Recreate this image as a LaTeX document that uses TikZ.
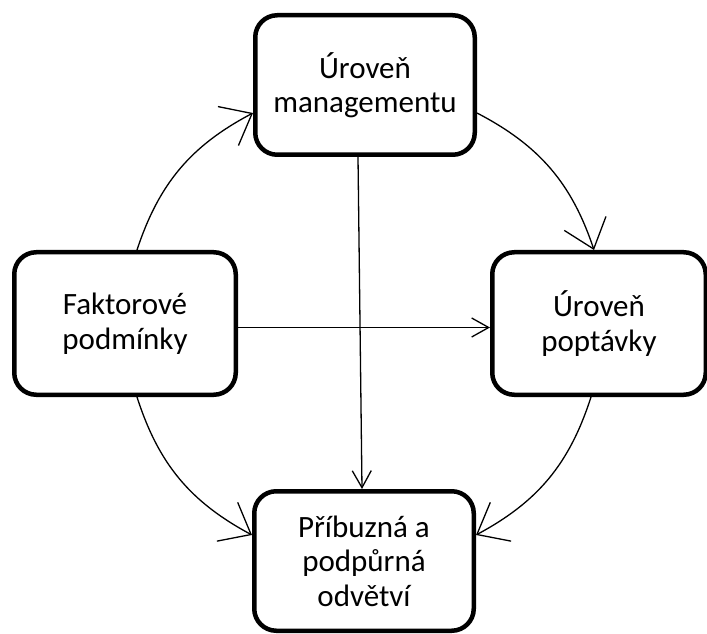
\documentclass[tikz,border=0pt]{standalone}
\usepackage{fontspec}
\setmainfont{Carlito}
\usetikzlibrary{arrows.meta}
\begin{document}
\begin{tikzpicture}[x=1pt,y=1pt,
  box/.style={draw, line width=4.5pt, rounded corners=22pt, align=center,
    font=\fontsize{31}{34.5}\selectfont, inner sep=0pt},
  conn/.style={line width=1.3pt},
  bigtip/.style={-{Straight Barb[length=27pt,width=44pt]}},
  smalltip/.style={-{Straight Barb[length=17pt,width=19pt]}}]
\useasboundingbox (0,0) rectangle (707,633);
\node[box, minimum width=219.5pt, minimum height=139.5pt] (T) at (365,548) {Úroveň\\managementu};
\node[box, minimum width=221.5pt, minimum height=142.5pt] (L) at (125,309.5) {Faktorové\\podmínky};
\node[box, minimum width=213.5pt, minimum height=142.5pt] (R) at (599,309.5) {Úroveň\\poptávky};
\node[box, minimum width=219.5pt, minimum height=139.5pt] (B) at (364,72) {Příbuzná a\\podpůrná\\odvětví};
\draw[conn, bigtip] ([xshift=12pt]L.north) to[bend left=22] ([yshift=-28pt]T.west);
\draw[conn, bigtip] ([yshift=-28pt]T.east) to[bend left=22] ([xshift=-5pt]R.north);
\draw[conn, bigtip] ([xshift=12pt]L.south) to[bend right=22] ([yshift=26pt]B.west);
\draw[conn, bigtip] ([xshift=-8pt]R.south) to[bend left=22] ([yshift=26pt]B.east);
\draw[conn, smalltip] ([yshift=-4pt]L.east) -- ([yshift=-4pt]R.west);
\draw[conn, smalltip] ([xshift=-7pt]T.south) -- ([xshift=-2pt]B.north);
\end{tikzpicture}
\end{document}
